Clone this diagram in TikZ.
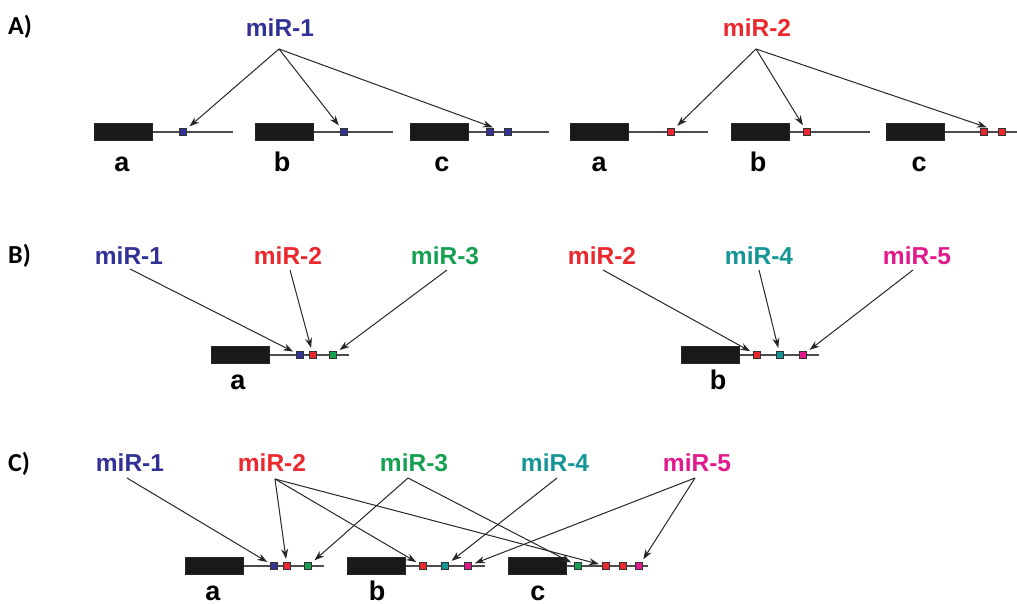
\documentclass[tikz,border=0pt]{standalone}
\usepackage{fontspec}
\setmainfont{Liberation Sans}
\newfontfamily\panelfont{Carlito}
\usetikzlibrary{arrows.meta}
\definecolor{cblue}{RGB}{50,50,150}
\definecolor{cred}{RGB}{235,40,45}
\definecolor{cgreen}{RGB}{20,160,80}
\definecolor{cteal}{RGB}{20,150,150}
\definecolor{cmag}{RGB}{225,25,140}
\newcommand\genemodel[4]{%
  \node[exon] (#1) at (#2,#3) {};
  \coordinate (#1e) at (#4,#3);
  \draw[bb] (#1.east) -- (#1e);
}
\begin{document}
\begin{tikzpicture}[x=1pt,y=-1pt,
  exon/.style={draw=black!85, fill=black!90, line width=0.5pt, minimum width=58pt, minimum height=17pt, inner sep=0pt, anchor=west},
  bb/.style={line width=1.5pt, black!70},
  site/.style={draw=black!80, line width=0.8pt, minimum size=7.5pt, inner sep=0pt},
  mir/.style={font=\fontsize{24.5}{28}\selectfont\bfseries, anchor=base, inner sep=0pt},
  gl/.style={font=\fontsize{27}{30}\selectfont\bfseries, anchor=base, inner sep=0pt},
  pl/.style={font=\panelfont\fontsize{26}{30}\selectfont\bfseries, anchor=base west, inner sep=0pt},
  arr/.style={-{Stealth[length=10pt,width=7pt]}, line width=1pt, black!85, shorten >=3pt}
]
\useasboundingbox (0,0) rectangle (1017,604);

% ---------------- Panel A ----------------
\node[pl] (pA) at (8,35) {A)};
\node[mir, text=cblue] (mA1) at (280,37) {miR-1};
\node[mir, text=cred] (mA2) at (757,37) {miR-2};
\coordinate (oA1) at (279,49);
\coordinate (oA2) at (756,49);

\genemodel{Aa}{94}{132}{233}
\genemodel{Ab}{255}{132}{393}
\genemodel{Ac}{410}{132}{549}
\genemodel{Ad}{570}{132}{708}
\genemodel{Ae}{731}{132}{870}
\genemodel{Af}{886}{132}{1017}

\node[site, fill=cblue] (sAa) at (183,132) {};
\node[site, fill=cblue] (sAb) at (344,132) {};
\node[site, fill=cblue] (sAc1) at (490,132) {};
\node[site, fill=cblue] (sAc2) at (508,132) {};
\node[site, fill=cred] (sAd) at (671,132) {};
\node[site, fill=cred] (sAe) at (807,132) {};
\node[site, fill=cred] (sAf1) at (984,132) {};
\node[site, fill=cred] (sAf2) at (1002,132) {};

\node[gl] (lAa) at (122,172) {a};
\node[gl] (lAb) at (282,172) {b};
\node[gl] (lAc) at (442,172) {c};
\node[gl] (lAd) at (599,172) {a};
\node[gl] (lAe) at (758,172) {b};
\node[gl] (lAf) at (919,172) {c};

\draw[arr] (oA1) -- (sAa);
\draw[arr] (oA1) -- (sAb);
\draw[arr, shorten >=1.5pt] (oA1) -- (sAc1.north east);
\draw[arr] (oA2) -- (sAd);
\draw[arr] (oA2) -- (sAe);
\draw[arr, shorten >=1.5pt] (oA2) -- (sAf1.north east);

% ---------------- Panel B ----------------
\node[pl] (pB) at (8,263) {B)};
\node[mir, text=cblue] (mB1) at (129,264) {miR-1};
\node[mir, text=cred] (mB2) at (288,264) {miR-2};
\node[mir, text=cgreen] (mB3) at (445,264) {miR-3};
\node[mir, text=cred] (mB4) at (602,264) {miR-2};
\node[mir, text=cteal] (mB5) at (759,264) {miR-4};
\node[mir, text=cmag] (mB6) at (917,264) {miR-5};
\coordinate (oB1) at (130,269);
\coordinate (oB2) at (290,270);
\coordinate (oB3) at (447,270);
\coordinate (oB4) at (603,270);
\coordinate (oB5) at (759,270);
\coordinate (oB6) at (913,270);

\genemodel{Ba}{211}{355}{349}
\genemodel{Bb}{681}{355}{819}

\node[site, fill=cblue] (sBa1) at (300,355) {};
\node[site, fill=cred] (sBa2) at (313,355) {};
\node[site, fill=cgreen] (sBa3) at (333,355) {};
\node[site, fill=cred] (sBb1) at (757,355) {};
\node[site, fill=cteal] (sBb2) at (780,355) {};
\node[site, fill=cmag] (sBb3) at (803,355) {};

\node[gl] (lBa) at (238,389) {a};
\node[gl] (lBb) at (718,389) {b};

\draw[arr] (oB1) -- (sBa1);
\draw[arr] (oB2) -- (sBa2);
\draw[arr] (oB3) -- (sBa3);
\draw[arr] (oB4) -- (sBb1);
\draw[arr] (oB5) -- (sBb2);
\draw[arr] (oB6) -- (sBb3);

% ---------------- Panel C ----------------
\node[pl] (pC) at (8,471) {C)};
\node[mir, text=cblue] (mC1) at (130,471) {miR-1};
\node[mir, text=cred] (mC2) at (272,471) {miR-2};
\node[mir, text=cgreen] (mC3) at (414,471) {miR-3};
\node[mir, text=cteal] (mC4) at (555,471) {miR-4};
\node[mir, text=cmag] (mC5) at (697,471) {miR-5};
\coordinate (oC1) at (127,478);
\coordinate (oC2) at (275,479);
\coordinate (oC3) at (408,478);
\coordinate (oC4) at (557,478);
\coordinate (oC5) at (695,478);

\genemodel{Ca}{185}{566}{324}
\genemodel{Cb}{347}{566}{485}
\genemodel{Cc}{508}{566}{648}

\node[site, fill=cblue] (sCa1) at (274,566) {};
\node[site, fill=cred] (sCa2) at (287,566) {};
\node[site, fill=cgreen] (sCa3) at (308,566) {};
\node[site, fill=cred] (sCb1) at (423,566) {};
\node[site, fill=cteal] (sCb2) at (445,566) {};
\node[site, fill=cmag] (sCb3) at (468,566) {};
\node[site, fill=cgreen] (sCc1) at (578,566) {};
\node[site, fill=cred] (sCc2) at (606,566) {};
\node[site, fill=cred] (sCc3) at (623,566) {};
\node[site, fill=cmag] (sCc4) at (639,566) {};

\node[gl] (lCa) at (213,600) {a};
\node[gl] (lCb) at (377,600) {b};
\node[gl] (lCc) at (538,600) {c};

\draw[arr] (oC1) -- (sCa1);
\draw[arr] (oC2) -- (sCa2);
\draw[arr] (oC2) -- (sCb1);
\draw[arr] (oC2) -- (sCc2);
\draw[arr] (oC3) -- (sCa3);
\draw[arr] (oC3) -- (sCc1);
\draw[arr] (oC4) -- (sCb2);
\draw[arr] (oC5) -- (sCb3);
\draw[arr] (oC5) -- (sCc4);
\end{tikzpicture}
\end{document}
